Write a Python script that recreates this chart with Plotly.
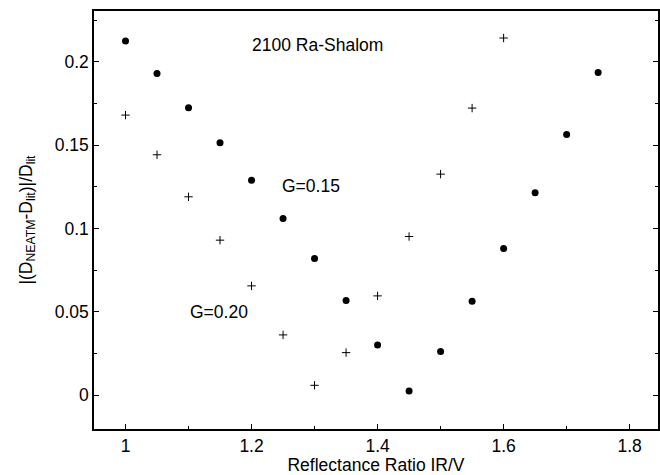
import plotly.graph_objects as go

ratio_g15 = [1.0, 1.05, 1.10, 1.15, 1.20, 1.25, 1.30, 1.35, 1.40, 1.45, 1.50, 1.55, 1.60, 1.65, 1.70, 1.75]
err_g15 = [0.2124, 0.193, 0.1724, 0.1514, 0.129, 0.106, 0.082, 0.0568, 0.0302, 0.0026, 0.0262, 0.0564, 0.088, 0.1214, 0.1564, 0.1936]

ratio_g20 = [1.0, 1.05, 1.10, 1.15, 1.20, 1.25, 1.30, 1.35, 1.40, 1.45, 1.50, 1.55, 1.60]
err_g20 = [0.168, 0.1442, 0.119, 0.093, 0.0656, 0.0362, 0.006, 0.0256, 0.0596, 0.0952, 0.1326, 0.1722, 0.2142]

font = "Liberation Sans, Arial, Helvetica, sans-serif"
fs = 17.5

fig = go.Figure()
fig.add_trace(go.Scatter(x=ratio_g15, y=err_g15, mode="markers",
                         marker=dict(symbol="circle", size=7, color="black"),
                         showlegend=False))
fig.add_trace(go.Scatter(x=ratio_g20, y=err_g20, mode="markers",
                         marker=dict(symbol="cross-thin", size=6, color="black",
                                     line=dict(color="black", width=1)),
                         showlegend=False))

fig.add_annotation(x=1.2, y=0.21, text="2100 Ra-Shalom", showarrow=False,
                   xanchor="left", yanchor="middle", xshift=-2,
                   font=dict(size=fs, family=font, color="black"))
fig.add_annotation(x=1.2485, y=0.1255, text="G=0.15", showarrow=False,
                   xanchor="left", yanchor="middle", xshift=-2,
                   font=dict(size=fs, family=font, color="black"))
fig.add_annotation(x=1.102, y=0.05, text="G=0.20", showarrow=False,
                   xanchor="left", yanchor="middle", xshift=-2,
                   font=dict(size=fs, family=font, color="black"))

fig.update_xaxes(range=[0.95, 1.845], dtick=0.2, tick0=1.0, ticks="inside", ticklen=5,
                 tickcolor="black", showline=True, linecolor="black", linewidth=1.5,
                 mirror=True, showgrid=False, zeroline=False,
                 minor=dict(dtick=0.1, tick0=1.0, ticks="inside", ticklen=3, tickcolor="black", showgrid=False),
                 tickfont=dict(size=fs, family=font, color="black"),
                 title=dict(text="Reflectance Ratio IR/V", font=dict(size=fs, family=font, color="black"), standoff=4))
fig.update_yaxes(range=[-0.0202, 0.2304], dtick=0.05, tick0=0, ticks="inside", ticklen=5,
                 tickcolor="black", showline=True, linecolor="black", linewidth=1.5,
                 mirror="ticks", showgrid=False, zeroline=False,
                 minor=dict(dtick=0.025, tick0=0, ticks="inside", ticklen=3, tickcolor="black", showgrid=False),
                 tickfont=dict(size=fs, family=font, color="black"),
                 title=dict(text="|(D<sub>NEATM</sub>-D<sub>lit</sub>)|/D<sub>lit</sub>",
                            font=dict(size=17.5, family=font, color="black"), standoff=18))

fig.update_layout(width=660, height=475, margin=dict(l=94, r=0, t=11, b=46),
                  plot_bgcolor="white", paper_bgcolor="white",
                  font=dict(family=font, color="black"))

fig.write_html("out.html", config={"displayModeBar": False},
               post_script="document.body.style.margin='0px';")
